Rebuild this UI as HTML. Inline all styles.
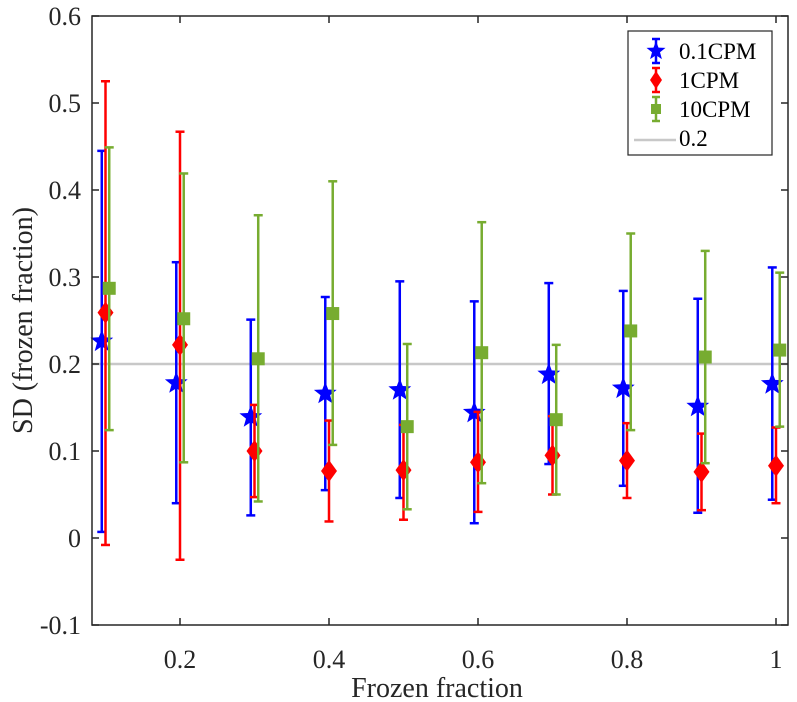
<!DOCTYPE html>
<html><head><meta charset="utf-8"><style>
body{margin:0;background:#fff}
svg{display:block}
text{font-family:"Liberation Serif","Times New Roman",serif}
</style></head><body>
<svg id="chart" width="797" height="702" font-family="Liberation Serif, serif">
<rect width="797" height="702" fill="#fff"/>
<g id="plot"></g>
</svg>
<script>
const groups=[0.1,0.2,0.3,0.4,0.5,0.6,0.7,0.8,0.9,1.0];
const blueMean=[0.226,0.178,0.139,0.166,0.170,0.144,0.188,0.172,0.151,0.177];
const blueUp=[0.445,0.317,0.251,0.277,0.295,0.272,0.293,0.284,0.275,0.311];
const blueLo=[0.007,0.040,0.026,0.055,0.046,0.017,0.085,0.060,0.029,0.044];
const redMean=[0.259,0.222,0.100,0.077,0.078,0.087,0.095,0.089,0.076,0.083];
const redUp=[0.525,0.467,0.153,0.135,0.130,0.145,0.140,0.132,0.120,0.127];
const redLo=[-0.008,-0.025,0.047,0.019,0.021,0.030,0.050,0.046,0.032,0.040];
const greenMean=[0.287,0.252,0.206,0.258,0.128,0.213,0.136,0.238,0.208,0.216];
const greenUp=[0.449,0.419,0.371,0.410,0.223,0.363,0.222,0.350,0.330,0.305];
const greenLo=[0.124,0.087,0.042,0.107,0.033,0.063,0.050,0.124,0.086,0.128];
const xTicks=[0.2,0.4,0.6,0.8,1];
const yTicks=[-0.1,0,0.1,0.2,0.3,0.4,0.5,0.6];
const refLine=0.2;

const L=92,R=788,T=16,B=625;
const X=v=>180+(v-0.2)*745;
const Y=v=>16+(0.6-v)*870;
const NS="http://www.w3.org/2000/svg";
const FF="Liberation Serif, serif";
const g=document.getElementById('plot');
function mk(tag,attrs,parent){const e=document.createElementNS(NS,tag);for(const k in attrs)e.setAttribute(k,attrs[k]);(parent||g).appendChild(e);return e;}

let rl=mk('line',{x1:L,x2:R,y1:Y(refLine),y2:Y(refLine),stroke:'#c8c8c8','stroke-width':2.5});



function star(cx,cy,r){let p=[];for(let i=0;i<10;i++){const a=-Math.PI/2+i*Math.PI/5;const rr=i%2?r*0.42:r;p.push((cx+rr*Math.cos(a)).toFixed(1)+','+(cy+rr*Math.sin(a)).toFixed(1));}return p.join(' ');}

const series=[
 {name:'0.1cpm',col:'#0000ff',mean:blueMean,up:blueUp,lo:blueLo,off:-0.005,m:'star'},
 {name:'1cpm',col:'#ff0000',mean:redMean,up:redUp,lo:redLo,off:0,m:'diamond'},
 {name:'10cpm',col:'#77ac30',mean:greenMean,up:greenUp,lo:greenLo,off:0.005,m:'square'}];
series.forEach(s=>{
 groups.forEach((gx,i)=>{
  const x=X(gx+s.off);
  const grp=mk('g',{});
  
  
  mk('line',{x1:x,x2:x,y1:Y(s.up[i]),y2:Y(s.lo[i]),stroke:s.col,'stroke-width':2.5},grp);
  mk('line',{x1:x-4.5,x2:x+4.5,y1:Y(s.up[i]),y2:Y(s.up[i]),stroke:s.col,'stroke-width':2.5},grp);
  mk('line',{x1:x-4.5,x2:x+4.5,y1:Y(s.lo[i]),y2:Y(s.lo[i]),stroke:s.col,'stroke-width':2.5},grp);
  const y=Y(s.mean[i]);let mm;
  if(s.m==='star')mm=mk('polygon',{points:star(x,y,12),fill:s.col},grp);
  else if(s.m==='diamond')mm=mk('polygon',{points:`${x},${y-11} ${x+8},${y} ${x},${y+11} ${x-8},${y}`,fill:s.col},grp);
  else mm=mk('rect',{x:x-6.5,y:y-6.5,width:13,height:13,fill:s.col},grp);
  
  
 });
});

const ax=mk('rect',{x:L,y:T,width:R-L,height:B-T,fill:'none',stroke:'#262626','stroke-width':1.5});


xTicks.forEach(v=>{
 const x=X(v);
 mk('line',{x1:x,x2:x,y1:B,y2:B-7,stroke:'#262626','stroke-width':1.5});
 mk('line',{x1:x,x2:x,y1:T,y2:T+7,stroke:'#262626','stroke-width':1.5});
 const t=mk('text',{x:x,y:B+43,'text-anchor':'middle','font-size':26,fill:'#262626','font-family':FF});
 t.textContent=String(v);
 
 
});
yTicks.forEach(v=>{
 const y=Y(v);
 mk('line',{x1:L,x2:L+7,y1:y,y2:y,stroke:'#262626','stroke-width':1.5});
 mk('line',{x1:R,x2:R-7,y1:y,y2:y,stroke:'#262626','stroke-width':1.5});
 const t=mk('text',{x:L-11,y:y+9,'text-anchor':'end','font-size':26,fill:'#262626','font-family':FF});
 t.textContent=v===0?'0':String(v);
 
 
});
let xl=mk('text',{x:437,y:697,'text-anchor':'middle','font-size':28,fill:'#262626','font-family':FF});
xl.textContent='Frozen fraction';


let yl=mk('text',{x:0,y:0,'text-anchor':'middle','font-size':28,fill:'#262626','font-family':FF,transform:`translate(32,${(T+B)/2}) rotate(-90)`});
yl.textContent='SD (frozen fraction)';



const lg=mk('g',{});


mk('rect',{x:628,y:31,width:144,height:124,fill:'#fff',stroke:'#262626','stroke-width':1.2},lg);
const labels=['0.1CPM','1CPM','10CPM','0.2'];
labels.forEach((lab,i)=>{
 const y=51+i*29;
 const e=mk('g',{},lg);
 
 
 if(i<3){
  const s=series[i],x=656;
  mk('line',{x1:x,x2:x,y1:y-12,y2:y+12,stroke:s.col,'stroke-width':2.5},e);
  mk('line',{x1:x-4,x2:x+4,y1:y-12,y2:y-12,stroke:s.col,'stroke-width':2.5},e);
  mk('line',{x1:x-4,x2:x+4,y1:y+12,y2:y+12,stroke:s.col,'stroke-width':2.5},e);
  if(s.m==='star')mk('polygon',{points:star(x,y,10),fill:s.col},e);
  else if(s.m==='diamond')mk('polygon',{points:`${x},${y-9} ${x+6},${y} ${x},${y+9} ${x-6},${y}`,fill:s.col},e);
  else mk('rect',{x:x-5,y:y-5,width:10,height:10,fill:s.col},e);
 } else mk('line',{x1:634,x2:676,y1:y+2,y2:y+2,stroke:'#c8c8c8','stroke-width':2.5},e);
 const t=mk('text',{x:679,y:y+8,'font-size':23,fill:'#000','font-family':FF},e);
 t.textContent=lab;
});
</script>
</body></html>
